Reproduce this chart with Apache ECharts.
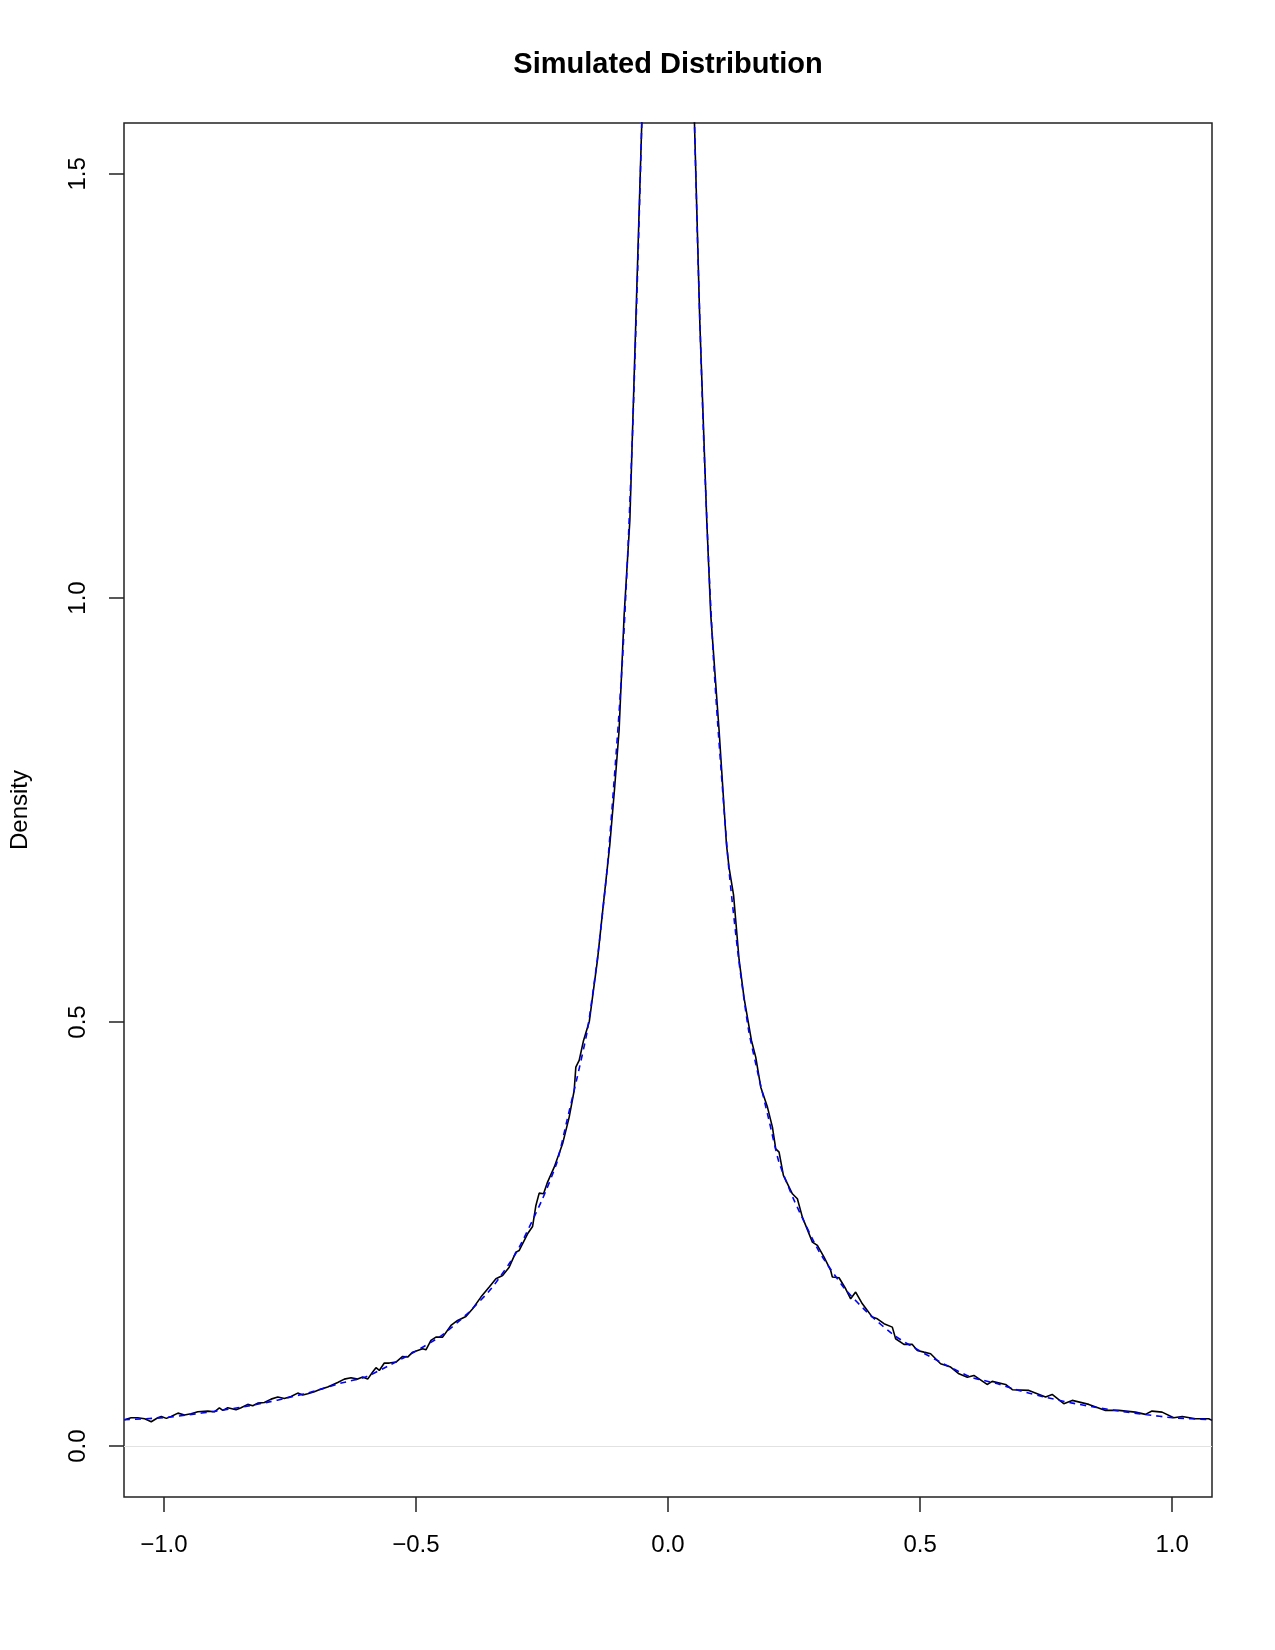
<!DOCTYPE html>
<html>
<head>
<meta charset="utf-8">
<title>Simulated Distribution</title>
<script src="https://cdn.jsdelivr.net/npm/echarts@6/dist/echarts.min.js"></script>
<style>
  html, body { margin: 0; padding: 0; background: #fff; }
  #chart { width: 1275px; height: 1650px; }
</style>
</head>
<body>
<div id="chart"></div>
<script>
// axis ranges and tick values
const xRange = [-1.079, 1.079]
const yRange = [-0.06, 1.56]
const xTicks = [-1, -0.5, 0, 0.5, 1]
const yTicks = [0, 0.5, 1, 1.5]

// simulated (kernel density) curve
const simulated = [
  [-1.078, 0.0311], [-1.065, 0.0334], [-1.052, 0.0334], [-1.038, 0.0323], [-1.025, 0.0287],
  [-1.012, 0.0334], [-1.005, 0.035], [-0.995, 0.0327], [-0.9855, 0.035], [-0.972, 0.0389],
  [-0.959, 0.0366], [-0.946, 0.0382], [-0.9326, 0.0405], [-0.9128, 0.0413], [-0.8997, 0.0405],
  [-0.8898, 0.0452], [-0.883, 0.0421], [-0.8732, 0.0452], [-0.8567, 0.0429], [-0.8468, 0.0452],
  [-0.8335, 0.0492], [-0.8236, 0.0476], [-0.8137, 0.0507], [-0.8006, 0.0515], [-0.7873, 0.0554],
  [-0.774, 0.0578], [-0.761, 0.0562], [-0.7477, 0.0586], [-0.7344, 0.0625], [-0.7245, 0.0602],
  [-0.7146, 0.0617], [-0.7015, 0.0641], [-0.6882, 0.0672], [-0.675, 0.0696], [-0.6551, 0.0751],
  [-0.642, 0.079], [-0.6287, 0.0806], [-0.6155, 0.079], [-0.6056, 0.0814], [-0.5957, 0.079],
  [-0.5858, 0.0873], [-0.5792, 0.0924], [-0.5726, 0.0892], [-0.5627, 0.098], [-0.5528, 0.0979],
  [-0.5395, 0.0991], [-0.5263, 0.1057], [-0.5164, 0.105], [-0.5065, 0.1108], [-0.4966, 0.1128],
  [-0.4867, 0.1148], [-0.4801, 0.1136], [-0.4702, 0.1246], [-0.4603, 0.1285], [-0.447, 0.1285],
  [-0.4305, 0.1423], [-0.4173, 0.1482], [-0.4008, 0.1529], [-0.3875, 0.1619], [-0.3711, 0.1757],
  [-0.3546, 0.1875], [-0.3413, 0.1973], [-0.3281, 0.2012], [-0.315, 0.211], [-0.3017, 0.2287],
  [-0.2951, 0.2307], [-0.2785, 0.2503], [-0.2686, 0.259], [-0.262, 0.2837], [-0.2555, 0.2983],
  [-0.2468, 0.2975], [-0.2389, 0.3113], [-0.2257, 0.3289], [-0.2091, 0.3564], [-0.196, 0.3879],
  [-0.1861, 0.4193], [-0.1828, 0.4468], [-0.1762, 0.4547], [-0.1675, 0.4783], [-0.156, 0.501],
  [-0.1398, 0.5735], [-0.128, 0.64], [-0.1154, 0.709], [-0.106, 0.775], [-0.097, 0.844],
  [-0.087, 0.98], [-0.0757, 1.091], [-0.0638, 1.327], [-0.052, 1.56], [-0.04, 1.86],
  [0, 4.2],
  [0.04, 1.86], [0.0525, 1.56], [0.063, 1.327], [0.0769, 1.091], [0.0848, 0.98],
  [0.1013, 0.844], [0.116, 0.709], [0.1212, 0.6817], [0.13, 0.65], [0.141, 0.5735],
  [0.151, 0.528], [0.1655, 0.4783], [0.174, 0.4586], [0.184, 0.4232], [0.1972, 0.3997],
  [0.2071, 0.3761], [0.2137, 0.3505], [0.2203, 0.3466], [0.2289, 0.3191], [0.2467, 0.2975],
  [0.2566, 0.2916], [0.2665, 0.27], [0.2864, 0.2405], [0.2963, 0.2366], [0.3095, 0.2228],
  [0.3227, 0.2071], [0.326, 0.1993], [0.3392, 0.1985], [0.3524, 0.1855], [0.3623, 0.1737],
  [0.3722, 0.1816], [0.3855, 0.1678], [0.3954, 0.16], [0.4053, 0.1521], [0.4152, 0.1501],
  [0.4284, 0.1443], [0.4449, 0.1403], [0.4515, 0.1266], [0.468, 0.1199], [0.4846, 0.1199],
  [0.4945, 0.1128], [0.5077, 0.1108], [0.5209, 0.1089], [0.5407, 0.0971], [0.5606, 0.0932],
  [0.5771, 0.0853], [0.5937, 0.0813], [0.6067, 0.0833], [0.633, 0.0727], [0.643, 0.0763],
  [0.6696, 0.0727], [0.683, 0.0665], [0.7158, 0.0657], [0.7489, 0.0578], [0.762, 0.0609],
  [0.785, 0.05], [0.8018, 0.0539], [0.8347, 0.0492], [0.8678, 0.0421], [0.894, 0.0421],
  [0.927, 0.0401], [0.947, 0.0374], [0.96, 0.0413], [0.98, 0.0401], [1.003, 0.0335],
  [1.02, 0.035], [1.046, 0.0323], [1.0725, 0.0323], [1.079, 0.0303]
]

// theoretical density (blue dashed)
const theoretical = [
  [-1.079, 0.031], [-1.0, 0.0335], [-0.95, 0.037], [-0.9, 0.041], [-0.85, 0.0455],
  [-0.8, 0.051], [-0.75, 0.0575], [-0.7, 0.065], [-0.65, 0.074], [-0.6, 0.0815],
  [-0.55, 0.096], [-0.5, 0.112], [-0.45, 0.13], [-0.4, 0.155], [-0.35, 0.186],
  [-0.3, 0.229], [-0.25, 0.29], [-0.22, 0.335], [-0.2, 0.385], [-0.18, 0.435],
  [-0.16, 0.49], [-0.14, 0.575], [-0.12, 0.685], [-0.1, 0.84], [-0.09, 0.93],
  [-0.08, 1.05], [-0.07, 1.2], [-0.06, 1.39], [-0.052, 1.56], [-0.04, 1.86],
  [0, 4.2],
  [0.04, 1.86], [0.0525, 1.56], [0.06, 1.39], [0.07, 1.2], [0.08, 1.05],
  [0.09, 0.93], [0.1, 0.84], [0.12, 0.685], [0.14, 0.575], [0.16, 0.49],
  [0.18, 0.435], [0.2, 0.385], [0.22, 0.335], [0.25, 0.29], [0.3, 0.229],
  [0.35, 0.186], [0.4, 0.155], [0.45, 0.13], [0.5, 0.112], [0.55, 0.096],
  [0.6, 0.0815], [0.65, 0.074], [0.7, 0.065], [0.75, 0.0575], [0.8, 0.051],
  [0.85, 0.0455], [0.9, 0.041], [0.95, 0.037], [1.0, 0.0335], [1.079, 0.031]
]

const font = 'Liberation Sans, Arial, Helvetica, sans-serif'

// R style labels use a real minus sign
function fmt (v) {
  return v.toFixed(1).replace('-', '\u2212')
}

let myChart = echarts.init(document.getElementById('chart'), null, {renderer: 'canvas'})

let option = {
  backgroundColor: '#ffffff',
  animation: false,
  title: {
    text: 'Simulated Distribution',
    left: 663,
    top: 45,
    textAlign: 'center',
    textStyle: {fontFamily: font, fontSize: 29, fontWeight: 'bold', color: '#000'}
  },
  grid: {
    left: 123,
    right: 63,
    top: 123,
    bottom: 153,
    show: true,
    borderColor: '#222',
    borderWidth: 1.5,
    backgroundColor: 'transparent'
  },
  xAxis: {
    type: 'value',
    min: xRange[0],
    max: xRange[1],
    axisLine: {show: false, onZero: false},
    splitLine: {show: false},
    axisTick: {
      show: true,
      inside: false,
      length: 15,
      customValues: xTicks,
      lineStyle: {color: '#222', width: 1.5}
    },
    axisLabel: {
      customValues: xTicks,
      formatter: fmt,
      margin: 36,
      fontFamily: font,
      fontSize: 24,
      color: '#000'
    }
  },
  yAxis: {
    type: 'value',
    min: yRange[0],
    max: yRange[1],
    name: 'Density',
    nameLocation: 'middle',
    nameRotate: 90,
    nameGap: 92,
    nameTextStyle: {fontFamily: font, fontSize: 24, color: '#000'},
    axisLine: {show: false, onZero: false},
    splitLine: {show: false},
    axisTick: {
      show: true,
      inside: false,
      length: 15,
      customValues: yTicks,
      lineStyle: {color: '#222', width: 1.5}
    },
    axisLabel: {
      customValues: yTicks,
      formatter: fmt,
      rotate: 90,
      margin: 34,
      fontFamily: font,
      fontSize: 24,
      color: '#000'
    }
  },
  series: [
    {
      name: 'simulated',
      type: 'line',
      data: simulated,
      showSymbol: false,
      clip: true,
      lineStyle: {color: '#000', width: 1.6},
      markLine: {
        silent: true,
        symbol: 'none',
        label: {show: false},
        lineStyle: {color: '#e2e2e2', type: 'solid', width: 1},
        data: [{yAxis: 0}]
      },
      z: 2
    },
    {
      name: 'theoretical',
      type: 'line',
      data: theoretical,
      showSymbol: false,
      clip: true,
      smooth: 0.2,
      lineStyle: {color: '#0000ff', width: 1.6, type: [6, 5]},
      z: 3
    }
  ]
}

myChart.setOption(option)
</script>
</body>
</html>
